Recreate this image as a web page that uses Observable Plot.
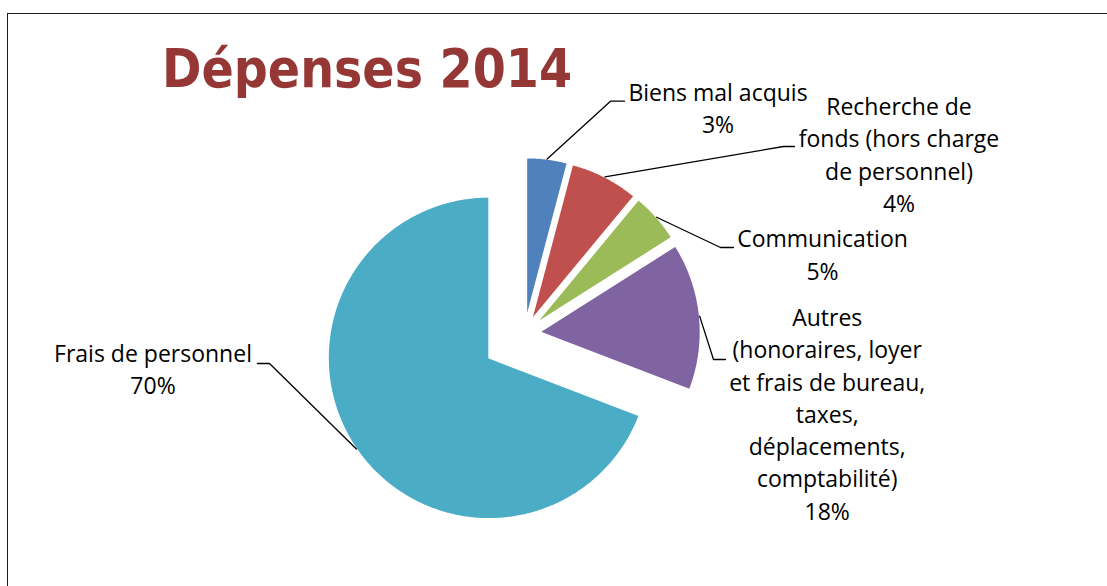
<!DOCTYPE html>
<html><head><meta charset="utf-8">
<script src="https://cdn.jsdelivr.net/npm/d3@7"></script>
<script src="https://cdn.jsdelivr.net/npm/@observablehq/plot@0.6"></script>
<style>
html,body{margin:0;padding:0;background:#fff;overflow:hidden;width:1107px;height:586px}
#wrap{position:relative;width:1107px;height:586px;overflow:hidden}
#frame{position:absolute;left:7px;top:13px;width:1300px;height:800px;border:1.5px solid #1a1a1a;box-sizing:border-box}
#chart{position:absolute;left:0;top:0}
#titlesvg{position:absolute;left:0;top:0}
</style></head>
<body><div id="wrap"><div id="frame"></div><div id="chart"></div>
<svg id="titlesvg" width="1107" height="120"><text id="title" x="162" y="87" font-family="DejaVu Sans" font-weight="bold" font-size="53" fill="#953735" textLength="410" lengthAdjust="spacingAndGlyphs">Dépenses 2014</text></svg>
</div>
<script>
// ---- data ----
const categories = [
  "Biens mal acquis",
  "Recherche de\nfonds (hors charge\nde personnel)",
  "Communication",
  "Autres\n(honoraires, loyer\net frais de bureau,\ntaxes,\ndéplacements,\ncomptabilité)",
  "Frais de personnel"
];
// slice shares as drawn in the picture (degrees of the pie converted to %)
const shares = [4.1, 6.9, 5.0, 14.8, 69.1];
// percentages printed on the labels
const labelPercents = ["3%", "4%", "5%", "18%", "70%"];
const colors = ["#4F81BD", "#C0504D", "#9BBB59", "#8064A2", "#4BACC6"];

// ---- layout (pixels) ----
const W = 1107, H = 586, R = 161, CX = 524, CY = 333;
const explodePx = [15, 15, 15, 15, 43];
const labelPos = [[717.5, 106.5], [898.5, 152.8], [822, 252.8], [826.7, 412], [152.5, 367.5]];
const elbowPos = [[[610, 100.7], [624, 100.7]], [[783, 146], [794, 146]], [[720, 247], [733, 247]], [[713, 359], [725, 359]], [[269, 363], [257, 363]]];

const toX = px => (px - CX) / R, toY = py => (py - CY) / R;
const total = d3.sum(shares);
let acc = 0;
const slices = categories.map((c, i) => {
  const a0 = acc / total * 2 * Math.PI; acc += shares[i];
  const a1 = acc / total * 2 * Math.PI;
  const mid = (a0 + a1) / 2, e = explodePx[i] / R;
  return {i, c, a0, a1, mid, ox: e * Math.sin(mid), oy: -e * Math.cos(mid)};
});
function slicePts(s) {
  const p = [{x: s.ox, y: s.oy}];
  const n = Math.max(4, Math.ceil((s.a1 - s.a0) / (Math.PI / 360)));
  for (let k = 0; k <= n; k++) {
    const a = s.a0 + (s.a1 - s.a0) * k / n;
    p.push({x: s.ox + Math.sin(a), y: s.oy - Math.cos(a)});
  }
  p.push({x: s.ox, y: s.oy});
  return p;
}
const leaders = slices.map(s => [
  {x: s.ox + Math.sin(s.mid), y: s.oy - Math.cos(s.mid)},
  {x: toX(elbowPos[s.i][0][0]), y: toY(elbowPos[s.i][0][1])},
  {x: toX(elbowPos[s.i][1][0]), y: toY(elbowPos[s.i][1][1])}
]);
const labels = slices.map(s => ({x: toX(labelPos[s.i][0]), y: toY(labelPos[s.i][1]), text: s.c + "\n" + labelPercents[s.i]}));

const plot = Plot.plot({
  width: W, height: H, margin: 0,
  x: {domain: [toX(0), toX(W)], range: [0, W], axis: null},
  y: {domain: [toY(0), toY(H)], range: [0, H], axis: null},
  marks: [
    ...slices.map(s => Plot.line(slicePts(s), {x: "x", y: "y", fill: colors[s.i], stroke: "white", strokeWidth: 1.5, curve: "linear"})),
    ...leaders.map(l => Plot.line(l, {x: "x", y: "y", stroke: "black", strokeWidth: 1.3})),
    Plot.text(labels, {x: "x", y: "y", text: "text", fontFamily: "Open Sans", fontSize: 23, lineHeight: 1.405, textAnchor: "middle", lineAnchor: "middle", fill: "black"})
  ]
});
plot.style.background = "transparent";
document.getElementById("chart").appendChild(plot);
</script>
</body></html>
